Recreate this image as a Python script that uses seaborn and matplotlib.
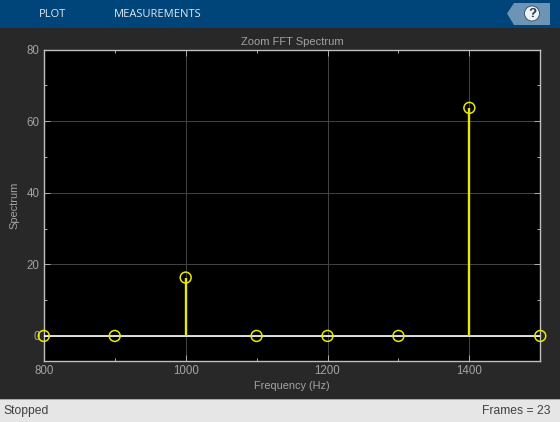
import numpy as np
import pandas as pd
import matplotlib
matplotlib.use('Agg')
import matplotlib.pyplot as plt
from matplotlib.patches import Rectangle, Polygon, Circle
from matplotlib.ticker import MultipleLocator
import seaborn as sns

# Values
freq = [800, 900, 1000, 1100, 1200, 1300, 1400, 1500]
spectrum = [0, 0, 16.3, 0, 0, 0, 63.7, 0]
toolbar_tabs = ['PLOT', 'MEASUREMENTS']
status_left = 'Stopped'
status_right = 'Frames = 23'

data = pd.DataFrame({'freq': freq, 'spectrum': spectrum})

W, H = 560, 422
BG = '#282828'
BLUE = '#00457a'
TXT = '#a3a3a3'
YEL = '#e8e800'

sns.set_theme(style='dark')
plt.rcParams['font.family'] = ['Liberation Sans', 'DejaVu Sans']

fig = plt.figure(figsize=(W / 100, H / 100), dpi=100, facecolor=BG)
ax = fig.add_axes([43.8 / W, 1 - 361 / H, 496.5 / W, 311.5 / H], facecolor='black')

# Stems and baseline
ax.hlines(0, freq[0], freq[-1], color='white', lw=1.2, zorder=3)
ax.vlines(data['freq'], 0, data['spectrum'], color=YEL, lw=1.7, zorder=4)

# Circle markers
sns.scatterplot(data=data, x='freq', y='spectrum', ax=ax, s=62, marker='o',
                facecolors='none', edgecolor=YEL, linewidth=1.1,
                clip_on=False, zorder=5)

ax.set_xlim(800, 1500)
ax.set_ylim(-7, 80)
ax.xaxis.set_major_locator(MultipleLocator(200))
ax.xaxis.set_minor_locator(MultipleLocator(100))
ax.yaxis.set_major_locator(MultipleLocator(20))
ax.yaxis.set_minor_locator(MultipleLocator(10))
ax.set_yticks([0, 20, 40, 60, 80])
ax.grid(True, which='major', color='#444444', lw=0.7)
ax.set_axisbelow(True)
ax.tick_params(which='major', direction='in', top=True, right=True, bottom=True, left=True,
               length=4.5, width=0.7, color='#b0b0b0', labelcolor=TXT, labelsize=8.3, pad=3)
ax.tick_params(which='minor', direction='in', top=True, right=True, bottom=True, left=True,
               length=2.5, width=0.7, color='#b0b0b0')
for s in ax.spines.values():
    s.set_color('#c0c0c0')
    s.set_linewidth(1)

ax.set_title('Zoom FFT Spectrum', color=TXT, fontsize=8, pad=3)
ax.set_xlabel('Frequency (Hz)', color=TXT, fontsize=7.9, labelpad=3)
ax.set_ylabel('Spectrum', color=TXT, fontsize=7.9, labelpad=5)

# Top toolbar
fig.patches.append(Rectangle((0, 1 - 28 / H), 1, 28 / H, transform=fig.transFigure,
                             facecolor=BLUE, edgecolor='none'))
for label, x in zip(toolbar_tabs, [39, 114]):
    fig.text(x / W, 1 - 14.8 / H, label, color='#dfe8ef', fontsize=8.05,
             family='Open Sans', ha='left', va='center')

# Help button, on an overlay axes above the toolbar
pts = [(507, 13.5), (514, 3), (550, 3), (550, 25), (514, 25)]
btn = fig.add_axes([0, 0, 1, 1], facecolor='none', zorder=5)
btn.set_xlim(0, W)
btn.set_ylim(H, 0)
btn.axis('off')
btn.add_patch(Polygon(pts, closed=True, facecolor='#6d94b5', edgecolor='none'))
btn.add_patch(Circle((532, 13.5), 7.5, facecolor='#eef2f6', edgecolor='#2e4a63', lw=0.6))
btn.text(532, 13.8, '?', color='#22384c', fontsize=9.5, fontweight='bold',
         ha='center', va='center')

# Status bar
fig.patches.append(Rectangle((0, 0), 1, 23 / H, transform=fig.transFigure,
                             facecolor='#e6e6e6', edgecolor='none'))
fig.patches.append(Rectangle((0, 22.5 / H), 1, 1 / H, transform=fig.transFigure,
                             facecolor='#a8a8a8', edgecolor='none'))
fig.text(3 / W, 10.6 / H, status_left, color='#404040', fontsize=8.7, ha='left', va='center')
fig.text(551 / W, 10.6 / H, status_right, color='#404040', fontsize=8.7, ha='right', va='center')

fig.savefig('out.png', dpi=100, facecolor=BG)
